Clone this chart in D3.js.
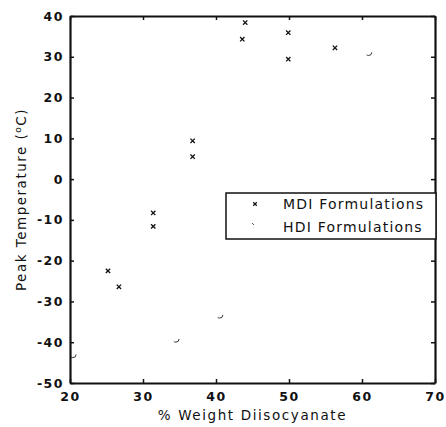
<!DOCTYPE html>
<html>
<head>
<meta charset="utf-8">
<script src="https://cdn.jsdelivr.net/npm/d3@7"></script>
<style>
  body { margin: 0; background: #fff; }
  text { font-family: "DejaVu Sans", "Liberation Sans", sans-serif; fill: #111; }
</style>
</head>
<body>
<div id="chart"></div>
<script>
// MDI formulations (% weight diisocyanate, peak temperature °C)
const mdiX = [25.2, 26.7, 31.4, 31.4, 36.8, 36.8, 44.0, 43.6, 49.9, 49.9, 56.3]
const mdiY = [-22.5, -26.4, -8.3, -11.6, 9.4, 5.5, 38.4, 34.3, 35.9, 29.4, 32.2]
// HDI formulations
const hdiX = [20.4, 34.5, 40.5, 60.9]
const hdiY = [-43.0, -39.2, -33.3, 31.1]

const xTicks = [20, 30, 40, 50, 60, 70]
const yTicks = [40, 30, 20, 10, 0, -10, -20, -30, -40, -50]
const legendLabels = ['MDI Formulations', 'HDI Formulations']

const dms = {
  width: 446,
  height: 427,
  margin: { top: 16, right: 11, bottom: 44, left: 70 }
}
dms.contentWidth = dms.width - dms.margin.left - dms.margin.right
dms.contentHeight = dms.height - dms.margin.top - dms.margin.bottom

const svg = d3.select('#chart').append('svg')
  .attr('width', dms.width)
  .attr('height', dms.height)

const content = svg.append('g')
  .attr('transform', `translate(${dms.margin.left},${dms.margin.top})`)

const xScale = d3.scaleLinear().domain([20, 70]).range([0, dms.contentWidth])
const yScale = d3.scaleLinear().domain([-50, 40]).range([dms.contentHeight, 0])

const plain = d => String(d)

// axes with inward ticks
const bottomAxis = content.append('g')
  .attr('transform', `translate(0,${dms.contentHeight})`)
  .call(d3.axisBottom(xScale).tickValues(xTicks).tickFormat(plain).tickSizeInner(-4).tickSizeOuter(0).tickPadding(9))
const topAxis = content.append('g')
  .call(d3.axisTop(xScale).tickValues(xTicks).tickSizeInner(-4).tickSizeOuter(0).tickFormat(''))
const leftAxis = content.append('g')
  .call(d3.axisLeft(yScale).tickValues(yTicks).tickFormat(plain).tickSizeInner(-4).tickSizeOuter(0).tickPadding(6))
const rightAxis = content.append('g')
  .attr('transform', `translate(${dms.contentWidth},0)`)
  .call(d3.axisRight(yScale).tickValues(yTicks).tickSizeInner(-4).tickSizeOuter(0).tickFormat(''))

;[bottomAxis, topAxis, leftAxis, rightAxis].forEach(ax => {
  ax.select('.domain').attr('stroke', '#111').attr('stroke-width', 2.2)
  ax.selectAll('.tick line').attr('stroke', '#111').attr('stroke-width', 1.5)
  ax.selectAll('.tick text')
    .style('font-family', '"DejaVu Sans", sans-serif')
    .style('font-size', '12.5px')
    .style('font-weight', 'bold')
    .style('letter-spacing', '1.5px')
    .attr('fill', '#111')
})

// MDI points
const xSym = d3.symbol(d3.symbolX).size(14)
content.append('g').selectAll('path')
  .data(mdiX.map((x, i) => [x, mdiY[i]]))
  .join('path')
  .attr('transform', d => `translate(${xScale(d[0])},${yScale(d[1])})`)
  .attr('d', xSym)
  .attr('fill', 'none')
  .attr('stroke', '#111')
  .attr('stroke-width', 1.3)

// HDI points (faint open circles)
content.append('g').selectAll('circle')
  .data(hdiX.map((x, i) => [x, hdiY[i]]))
  .join('circle')
  .attr('cx', d => xScale(d[0]))
  .attr('cy', d => yScale(d[1]))
  .attr('r', 3.2)
  .attr('fill', 'none')
  .attr('stroke', '#222')
  .attr('stroke-width', 0.9)
  .attr('stroke-dasharray', '7,13')

// legend
const legend = svg.append('g').attr('transform', 'translate(226,193)')
legend.append('rect')
  .attr('width', 210).attr('height', 46)
  .attr('fill', '#fff').attr('stroke', '#111').attr('stroke-width', 1.5)
legend.append('path')
  .attr('transform', 'translate(29,11)')
  .attr('d', d3.symbol(d3.symbolX).size(10))
  .attr('stroke', '#111').attr('stroke-width', 1.2)
legend.append('path')
  .attr('d', 'M26,30 L28,32')
  .attr('stroke', '#333').attr('stroke-width', 0.9)
legend.selectAll('text.lab')
  .data(legendLabels)
  .join('text')
  .attr('class', 'lab')
  .attr('x', 57)
  .attr('y', (d, i) => 16 + i * 23)
  .style('font-size', '14px')
  .style('letter-spacing', '1.2px')
  .text(d => d)

// axis titles
svg.append('text')
  .attr('x', dms.margin.left + dms.contentWidth / 2)
  .attr('y', 420)
  .attr('text-anchor', 'middle')
  .style('font-size', '13.5px')
  .style('letter-spacing', '1.6px')
  .text('% Weight Diisocyanate')

const yt = svg.append('text')
  .attr('transform', `translate(26,${dms.margin.top + dms.contentHeight / 2}) rotate(-90)`)
  .attr('text-anchor', 'middle')
  .style('font-size', '13.5px')
  .style('letter-spacing', '1.5px')
yt.append('tspan').text('Peak Temperature (')
yt.append('tspan').attr('dy', -5).style('font-size', '9px').text('o')
yt.append('tspan').attr('dy', 5).text('C)')
</script>
</body>
</html>
